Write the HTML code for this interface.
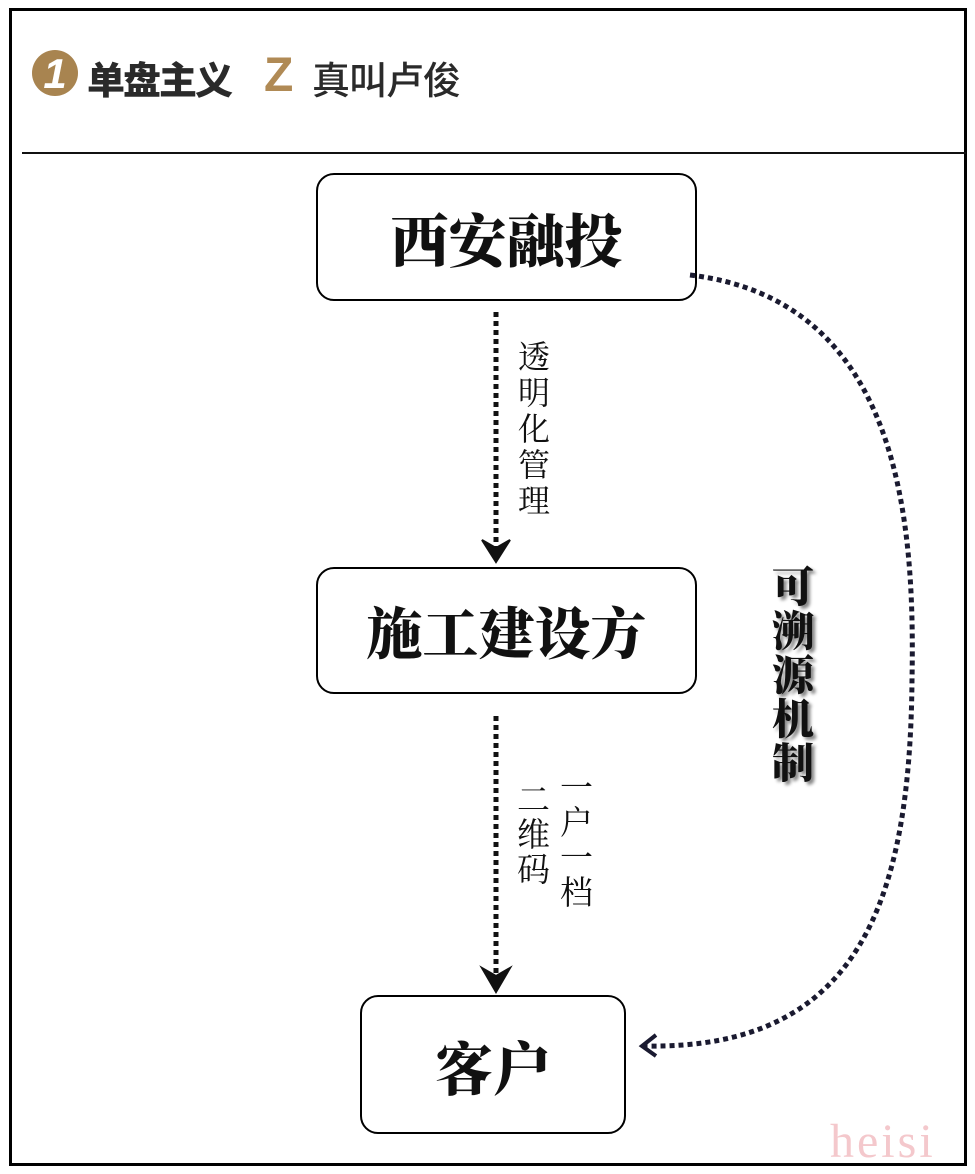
<!DOCTYPE html>
<html><head><meta charset="utf-8"><style>
body{margin:0;width:975px;height:1174px;background:#fff;position:relative;overflow:hidden;font-family:"Liberation Serif","Noto Serif CJK SC",serif}
.b{position:absolute;border:2px solid #000;border-radius:18px;box-sizing:border-box;display:flex;align-items:center;justify-content:center;font-weight:900;color:#111}
.v{position:absolute;writing-mode:vertical-rl;color:#111;white-space:nowrap}
</style></head><body>
<div style="position:absolute;left:9px;top:8px;width:958px;height:1158px;border:3px solid #000;box-sizing:border-box"></div>
<div style="position:absolute;left:22px;top:152px;width:944px;height:2px;background:#111"></div>
<div style="position:absolute;left:32px;top:50px;width:46px;height:46px;border-radius:50%;background:#a88450;color:#fff;font:italic bold 42px 'Liberation Sans';text-align:center;line-height:48px">1</div>
<div style="position:absolute;left:87px;top:50px;font:900 38px 'Liberation Sans','Noto Sans CJK SC',sans-serif;color:#2a2a2a;letter-spacing:-2px">单盘主义</div>
<div style="position:absolute;left:264px;top:48px;font:900 48px 'Liberation Sans';color:#b08a55">Z</div>
<div style="position:absolute;left:312px;top:50px;font:500 38px 'Liberation Sans','Noto Sans CJK SC',sans-serif;color:#2a2a2a;letter-spacing:-1px">真叫卢俊</div>
<div class="b" style="left:316px;top:173px;width:381px;height:128px;font-size:58px">西安融投</div>
<div class="b" style="left:316px;top:567px;width:381px;height:127px;font-size:56px">施工建设方</div>
<div class="b" style="left:360px;top:995px;width:266px;height:139px;font-size:58px">客户</div>
<svg width="975" height="1174" style="position:absolute;left:0;top:0">
<g stroke="#111" stroke-width="5" fill="none">
<line x1="496" y1="312" x2="496" y2="550" stroke-dasharray="5 4"/>
<line x1="496" y1="716" x2="496" y2="980" stroke-dasharray="5 4"/>
<polygon points="482,540 496,548 510,540 496,562" fill="#111" stroke-width="2"/>
<polygon points="482,968 496,976 510,968 496,992" fill="#111" stroke-width="2"/>
<path d="M690,275 C900,300 915,520 912,680 C910,900 860,1050 645,1046" stroke="#1a1a30" stroke-dasharray="5 4"/>
<polyline points="656,1035 642,1046 656,1056" stroke="#1a1a30" stroke-width="4"/>
</g></svg>
<div class="v" style="left:514px;top:340px;font-size:32px;line-height:36px;letter-spacing:4px">透明化管理</div>
<div class="v" style="left:555px;top:770px;font-size:33px;line-height:36px;letter-spacing:2px">一户一档</div>
<div class="v" style="left:512px;top:782px;font-size:33px;line-height:36px;letter-spacing:2px">二维码</div>
<div class="v" style="left:766px;top:565px;font-size:42px;font-weight:900;line-height:46px;letter-spacing:2px;text-shadow:3px 3px 3px #888">可溯源机制</div>
<div style="position:absolute;left:830px;top:1114px;font:48px 'Liberation Serif',serif;color:#f4c8cc;letter-spacing:3px">heisi</div>
</body></html>
